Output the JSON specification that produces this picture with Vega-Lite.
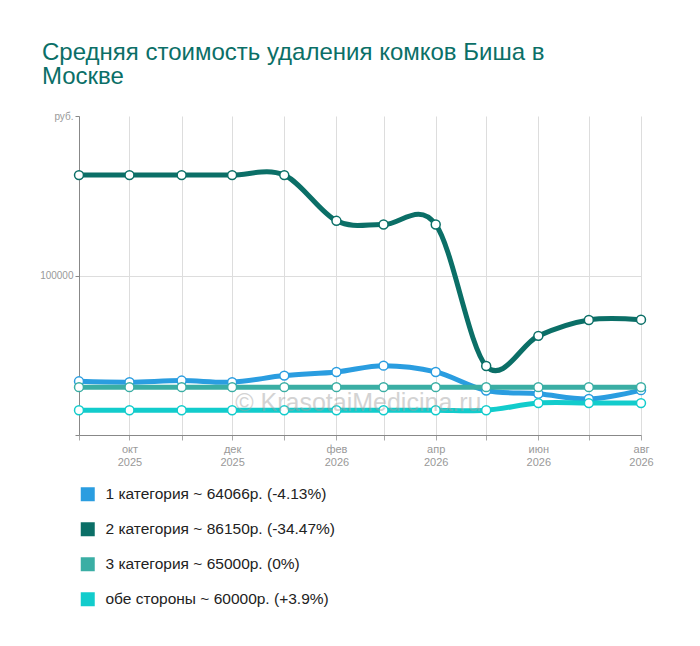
{
  "$schema": "https://vega.github.io/schema/vega-lite/v6.json",
  "width": 562,
  "height": 319,
  "autosize": {"type": "none"},
  "padding": {"left": 79, "top": 116, "right": 59, "bottom": 211},
  "config": {
    "view": {"stroke": null},
    "font": "Liberation Sans"
  },
  "title": {
    "text": ["Средняя стоимость удаления комков Биша в", "Москве"],
    "anchor": "start",
    "frame": "group",
    "dx": -37,
    "offset": 22,
    "fontSize": 24,
    "fontWeight": "normal",
    "lineHeight": 24,
    "color": "#0b6f67",
    "font": "Liberation Sans"
  },
  "datasets": {
    "prices": [
      {"date": "2025/09/01", "cat": "1 категория ~ 64066р. (-4.13%)", "value": 66826},
      {"date": "2025/10/01", "cat": "1 категория ~ 64066р. (-4.13%)", "value": 66560},
      {"date": "2025/11/01", "cat": "1 категория ~ 64066р. (-4.13%)", "value": 67060},
      {"date": "2025/12/01", "cat": "1 категория ~ 64066р. (-4.13%)", "value": 66560},
      {"date": "2026/01/01", "cat": "1 категория ~ 64066р. (-4.13%)", "value": 68620},
      {"date": "2026/02/01", "cat": "1 категория ~ 64066р. (-4.13%)", "value": 69770},
      {"date": "2026/03/01", "cat": "1 категория ~ 64066р. (-4.13%)", "value": 71740},
      {"date": "2026/04/01", "cat": "1 категория ~ 64066р. (-4.13%)", "value": 69770},
      {"date": "2026/05/01", "cat": "1 категория ~ 64066р. (-4.13%)", "value": 63950},
      {"date": "2026/06/01", "cat": "1 категория ~ 64066р. (-4.13%)", "value": 62920},
      {"date": "2026/07/01", "cat": "1 категория ~ 64066р. (-4.13%)", "value": 61270},
      {"date": "2026/08/01", "cat": "1 категория ~ 64066р. (-4.13%)", "value": 64066},
      {"date": "2025/09/01", "cat": "2 категория ~ 86150р. (-34.47%)", "value": 131466},
      {"date": "2025/10/01", "cat": "2 категория ~ 86150р. (-34.47%)", "value": 131466},
      {"date": "2025/11/01", "cat": "2 категория ~ 86150р. (-34.47%)", "value": 131466},
      {"date": "2025/12/01", "cat": "2 категория ~ 86150р. (-34.47%)", "value": 131466},
      {"date": "2026/01/01", "cat": "2 категория ~ 86150р. (-34.47%)", "value": 131466},
      {"date": "2026/02/01", "cat": "2 категория ~ 86150р. (-34.47%)", "value": 117140},
      {"date": "2026/03/01", "cat": "2 категория ~ 86150р. (-34.47%)", "value": 115990},
      {"date": "2026/04/01", "cat": "2 категория ~ 86150р. (-34.47%)", "value": 115990},
      {"date": "2026/05/01", "cat": "2 категория ~ 86150р. (-34.47%)", "value": 71640},
      {"date": "2026/06/01", "cat": "2 категория ~ 86150р. (-34.47%)", "value": 81080},
      {"date": "2026/07/01", "cat": "2 категория ~ 86150р. (-34.47%)", "value": 86070},
      {"date": "2026/08/01", "cat": "2 категория ~ 86150р. (-34.47%)", "value": 86150},
      {"date": "2025/09/01", "cat": "3 категория ~ 65000р. (0%)", "value": 65000},
      {"date": "2025/10/01", "cat": "3 категория ~ 65000р. (0%)", "value": 65000},
      {"date": "2025/11/01", "cat": "3 категория ~ 65000р. (0%)", "value": 65000},
      {"date": "2025/12/01", "cat": "3 категория ~ 65000р. (0%)", "value": 65000},
      {"date": "2026/01/01", "cat": "3 категория ~ 65000р. (0%)", "value": 65000},
      {"date": "2026/02/01", "cat": "3 категория ~ 65000р. (0%)", "value": 65000},
      {"date": "2026/03/01", "cat": "3 категория ~ 65000р. (0%)", "value": 65000},
      {"date": "2026/04/01", "cat": "3 категория ~ 65000р. (0%)", "value": 65000},
      {"date": "2026/05/01", "cat": "3 категория ~ 65000р. (0%)", "value": 65000},
      {"date": "2026/06/01", "cat": "3 категория ~ 65000р. (0%)", "value": 65000},
      {"date": "2026/07/01", "cat": "3 категория ~ 65000р. (0%)", "value": 65000},
      {"date": "2026/08/01", "cat": "3 категория ~ 65000р. (0%)", "value": 65000},
      {"date": "2025/09/01", "cat": "обе стороны ~ 60000р. (+3.9%)", "value": 57748},
      {"date": "2025/10/01", "cat": "обе стороны ~ 60000р. (+3.9%)", "value": 57748},
      {"date": "2025/11/01", "cat": "обе стороны ~ 60000р. (+3.9%)", "value": 57748},
      {"date": "2025/12/01", "cat": "обе стороны ~ 60000р. (+3.9%)", "value": 57748},
      {"date": "2026/01/01", "cat": "обе стороны ~ 60000р. (+3.9%)", "value": 57748},
      {"date": "2026/02/01", "cat": "обе стороны ~ 60000р. (+3.9%)", "value": 57748},
      {"date": "2026/03/01", "cat": "обе стороны ~ 60000р. (+3.9%)", "value": 57748},
      {"date": "2026/04/01", "cat": "обе стороны ~ 60000р. (+3.9%)", "value": 57748},
      {"date": "2026/05/01", "cat": "обе стороны ~ 60000р. (+3.9%)", "value": 57748},
      {"date": "2026/06/01", "cat": "обе стороны ~ 60000р. (+3.9%)", "value": 60000},
      {"date": "2026/07/01", "cat": "обе стороны ~ 60000р. (+3.9%)", "value": 60000},
      {"date": "2026/08/01", "cat": "обе стороны ~ 60000р. (+3.9%)", "value": 60000}
    ],
    "watermark": [
      {"date": "2026/02/14", "value": 60100, "text": "© KrasotaiMedicina.ru"}
    ]
  },
  "encoding": {
    "x": {
      "field": "date",
      "type": "temporal",
      "title": null,
      "scale": {"domain": [{"year": 2025, "month": 9, "date": 1}, {"year": 2026, "month": 8, "date": 1}]},
      "axis": {
        "tickCount": {"interval": "month", "step": 1},
        "labelExpr": "month(datum.value) % 2 == 1 ? [['янв','фев','мар','апр','май','июн','июл','авг','сен','окт','ноя','дек'][month(datum.value)], '' + year(datum.value)] : ''",
        "labelColor": "#999999",
        "labelFontSize": 11,
        "labelLineHeight": 13,
        "labelPadding": 3,
        "labelFlush": false,
        "labelOverlap": false,
        "domainColor": "#888888",
        "tickColor": "#aaaaaa",
        "tickSize": 5,
        "gridColor": "#dddddd"
      }
    },
    "y": {
      "field": "value",
      "type": "quantitative",
      "title": null,
      "scale": {"domain": [50000, 150000], "nice": false, "zero": false},
      "axis": {
        "values": [50000, 100000, 150000],
        "labelExpr": "datum.value == 150000 ? 'руб.' : datum.value == 100000 ? '100000' : ''",
        "labelColor": "#999999",
        "labelFontSize": 10,
        "labelPadding": 2,
        "domainColor": "#888888",
        "tickColor": "#888888",
        "tickSize": 4,
        "gridColor": "#dddddd",
        "gridOpacity": {"condition": {"test": "datum.value == 100000", "value": 1}, "value": 0}
      }
    }
  },
  "layer": [
    {
      "data": {"name": "prices"},
      "mark": {"type": "line", "interpolate": "cardinal", "strokeWidth": 5},
      "encoding": {
        "color": {
          "field": "cat",
          "type": "nominal",
          "scale": {
            "domain": ["1 категория ~ 64066р. (-4.13%)", "2 категория ~ 86150р. (-34.47%)", "3 категория ~ 65000р. (0%)", "обе стороны ~ 60000р. (+3.9%)"],
            "range": ["#2a9de0", "#0b6f67", "#3aaea4", "#12cccc"]
          },
          "legend": {
            "title": null,
            "orient": "none",
            "legendX": 1,
            "legendY": 370.5,
            "direction": "vertical",
            "symbolType": "square",
            "symbolSize": 1,
            "symbolStrokeWidth": 13,
            "symbolOpacity": 1,
            "symbolDash": [],
            "labelFontSize": 15.5,
            "labelColor": "#222222",
            "labelFont": "Liberation Sans",
            "labelOffset": 10,
            "labelLimit": 400,
            "rowPadding": -20.5,
            "padding": 0
          }
        }
      }
    },
    {
      "data": {"name": "prices"},
      "mark": {"type": "point", "filled": true, "fill": "white", "size": 80, "strokeWidth": 1.5, "opacity": 1},
      "encoding": {
        "stroke": {"field": "cat", "type": "nominal", "scale": {
            "domain": ["1 категория ~ 64066р. (-4.13%)", "2 категория ~ 86150р. (-34.47%)", "3 категория ~ 65000р. (0%)", "обе стороны ~ 60000р. (+3.9%)"],
            "range": ["#2a9de0", "#0b6f67", "#3aaea4", "#12cccc"]
          }, "legend": null}
      }
    },
    {
      "data": {"name": "watermark"},
      "mark": {"type": "text", "fontSize": 25, "align": "center", "baseline": "middle", "color": "#a0a0a0", "opacity": 0.45, "font": "Liberation Sans"},
      "encoding": {"text": {"field": "text"}}
    }
  ]
}
